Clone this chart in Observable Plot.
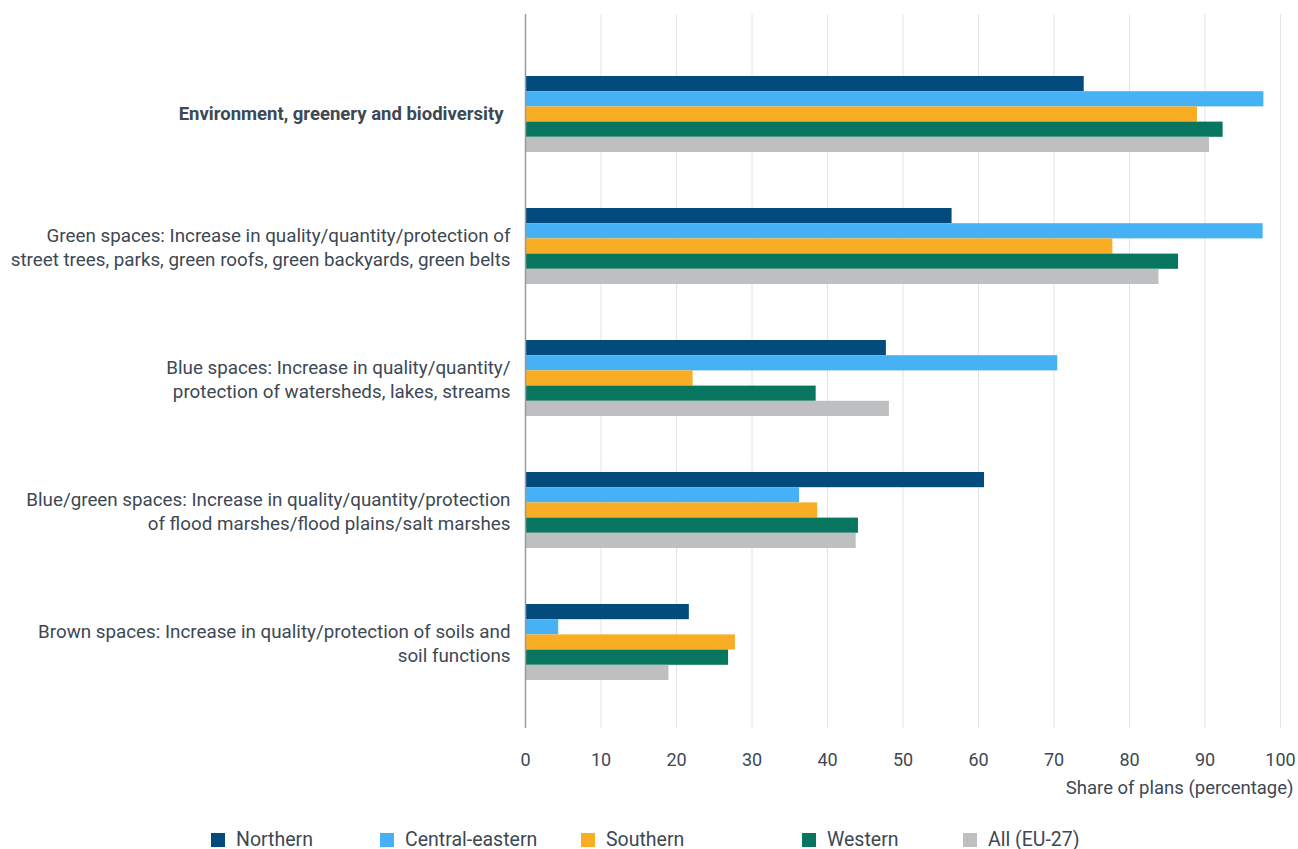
<!DOCTYPE html>
<html>
<head>
<meta charset="utf-8">
<script src="https://cdn.jsdelivr.net/npm/d3@7"></script>
<script src="https://cdn.jsdelivr.net/npm/@observablehq/plot@0.6"></script>
<style>
  body { margin: 0; background: #fff; font-family: Roboto, "Noto Sans", sans-serif; }
  #chart svg { display: block; }
  #legend { position: relative; height: 39px; margin-top: 0; }
  .item { position: absolute; top: 18px; display: flex; align-items: center; font-size: 19.5px; color: #3d4854; }
  .sw { width: 14px; height: 14px; margin-right: 11px; display: inline-block; }
</style>
</head>
<body>
<div id="chart"></div>
<div id="legend"></div>
<script>
const categories = [
  "Environment, greenery and biodiversity",
  "Green spaces: Increase in quality/quantity/protection of\nstreet trees, parks, green roofs, green backyards, green belts",
  "Blue spaces: Increase in quality/quantity/\nprotection of watersheds, lakes, streams",
  "Blue/green spaces: Increase in quality/quantity/protection\nof flood marshes/flood plains/salt marshes",
  "Brown spaces: Increase in quality/protection of soils and\nsoil functions"
];
const regions = ["Northern", "Central-eastern", "Southern", "Western", "All (EU-27)"];
const colors = ["#034b7d", "#47b1f6", "#f9ad24", "#08765f", "#bebfc1"];
const northern       = [74.0, 56.5, 47.8, 60.8, 21.7];
const centralEastern = [97.8, 97.7, 70.5, 36.3, 4.4];
const southern       = [89.0, 77.8, 22.2, 38.7, 27.8];
const western        = [92.4, 86.5, 38.5, 44.1, 26.9];
const allEU          = [90.6, 83.9, 48.2, 43.8, 19.0];
const xTicks = [0, 10, 20, 30, 40, 50, 60, 70, 80, 90, 100];
const xLabel = "Share of plans (percentage)";

const series = [northern, centralEastern, southern, western, allEU];
const bandwidth = 76;
const barH = bandwidth / regions.length;

const barMarks = regions.map((r, i) =>
  Plot.barX(categories.map((c, j) => ({category: c, region: r, value: series[i][j]})), {
    x: "value", y: "category", fill: colors[i],
    insetTop: i * barH, insetBottom: (regions.length - 1 - i) * barH
  })
);

const textColor = "#3d4854";
const chart = Plot.plot({
  width: 1298,
  height: 810,
  marginLeft: 525,
  marginRight: 18,
  marginTop: 14,
  marginBottom: 82,
  style: {fontFamily: "Roboto, sans-serif", fontSize: "18px", color: textColor, background: "#fff"},
  x: {domain: [0, 100], ticks: xTicks},
  y: {domain: categories, range: [75, 681], paddingInner: 0.426, paddingOuter: 0},
  marks: [
    Plot.ruleX(xTicks.slice(1), {stroke: "#e4e4e4", strokeWidth: 1}),
    ...barMarks,
    Plot.ruleX([0], {stroke: "#9a9a9a", strokeWidth: 1.5}),
    Plot.axisX({ticks: xTicks, tickSize: 0, tickPadding: 25, fontSize: 18, fill: textColor, label: null}),
    Plot.axisY({ticks: categories.slice(0, 1), tickSize: 0, tickPadding: 22, fontSize: 18.5, fontWeight: "bold", fill: textColor, label: null}),
    Plot.axisY({ticks: categories.slice(1), tickSize: 0, tickPadding: 15, fontSize: 18.8, lineHeight: 1.25, fill: textColor, label: null}),
    Plot.text([xLabel], {frameAnchor: "bottom-right", dx: 13, dy: 65, textAnchor: "end", fontSize: 18.5, fill: textColor})
  ]
});
document.getElementById("chart").appendChild(chart);

const legendLefts = [211, 380, 581, 802, 963];
const legend = document.getElementById("legend");
regions.forEach((r, i) => {
  const it = document.createElement("div");
  it.className = "item";
  it.style.left = legendLefts[i] + "px";
  it.innerHTML = `<span class="sw" style="background:${colors[i]}"></span><span>${r}</span>`;
  legend.appendChild(it);
});
</script>
</body>
</html>
